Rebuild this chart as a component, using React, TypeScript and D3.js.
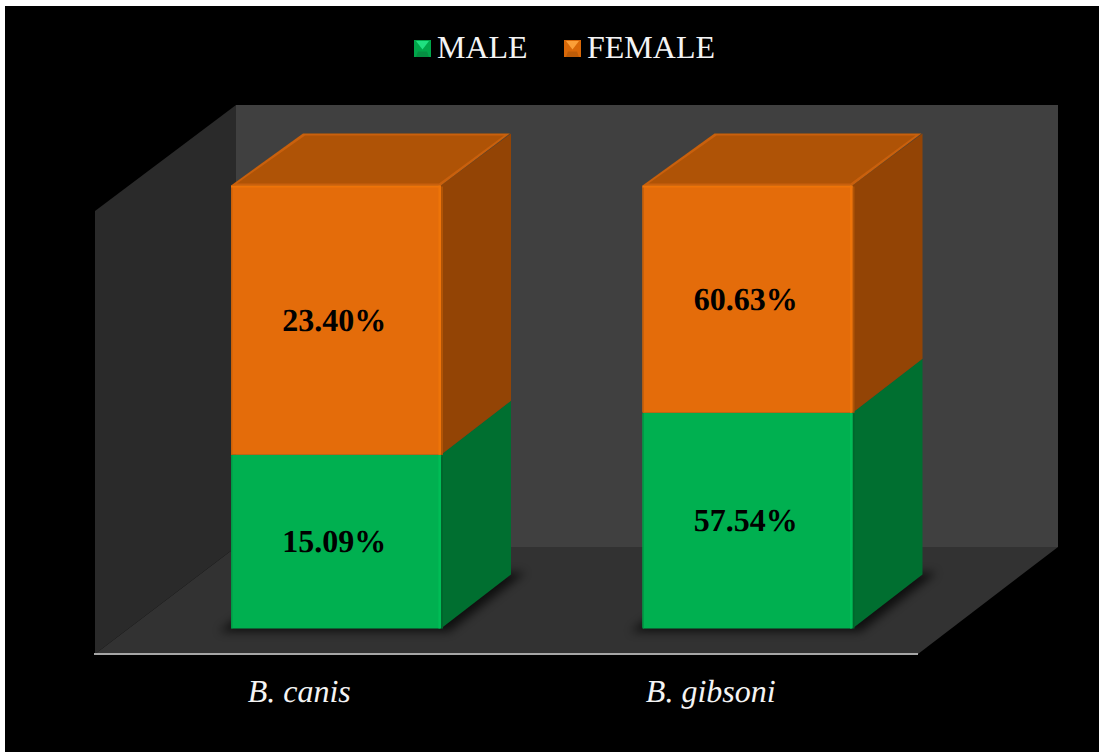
import React from "react";
import * as d3 from "d3";

const categories = ["B. canis", "B. gibsoni"];
const seriesNames = ["MALE", "FEMALE"];
const maleValues = [15.09, 57.54];
const femaleValues = [23.4, 60.63];
const valueLabels = [
  ["15.09%", "57.54%"],
  ["23.40%", "60.63%"],
];

const W = 1099;
const H = 752;
const FONT = "'Liberation Serif', 'Times New Roman', serif";

// Chart box: front plane of the plot and the offset of the oblique depth axis.
const front = { left: 95, right: 918, top: 211, bottom: 654 };
const depth = { dx: 141, dy: -107 };
const barDepth = { dx: 70, dy: -54 };
const capRise = -52;
const barInset = { dx: 35.25, dy: -26 };
const barWidth = 210;

const palette = [
  { front: "#00b050", side: "#006f30", top: "#008a40", edge: "#00bd56", dark: "#009a45", sideDark: "#00662c", legendTop: "#1fe080", legendBottom: "#058f42", legendSide: "#00a64a" },
  { front: "#e46c0a", side: "#934405", top: "#af5306", edge: "#ee7409", dark: "#c96008", sideDark: "#b05406", legendTop: "#fb9f38", legendBottom: "#bd5c08", legendSide: "#d96808" },
];

const pts = (p: [number, number][]) => p.map((q) => q.join(",")).join(" ");

export default function App() {
  const rows = categories.map((c, i) => ({ c, MALE: maleValues[i], FEMALE: femaleValues[i] }));
  const stacked = d3.stack<any>().keys(seriesNames).offset(d3.stackOffsetExpand)(rows);

  const x = d3.scaleBand<string>().domain(categories).range([front.left, front.right]);
  const y = d3.scaleLinear().domain([0, 1]).range([628.5, 185.5]);
  const barX = (c: string) => x(c)! + x.bandwidth() / 2 + barInset.dx - barWidth / 2;

  const backL = front.left + depth.dx;
  const backR = front.right + depth.dx - 1;
  const backT = 105;
  const backB = 547;

  return (
    <svg
      width={W}
      height={H}
      viewBox={`0 0 ${W} ${H}`}
      style={{ position: "absolute", left: 0, top: 0, display: "block", textRendering: "geometricPrecision" }}
      fontFamily={FONT}
    >
      <defs>
        <filter id="floorShadow" x="-30%" y="-30%" width="160%" height="160%">
          <feGaussianBlur stdDeviation="5" />
        </filter>
        <filter id="capSoft" x="-5%" y="-5%" width="110%" height="110%">
          <feGaussianBlur stdDeviation="0.7" />
        </filter>
      </defs>
      <rect width={W} height={H} fill="#ffffff" />
      <rect x={5} y={6} width={W - 5} height={H - 6} fill="#000000" />

      {/* Walls and floor of the 3-D box */}
      <polygon
        points={pts([[backL, backT], [backR, backT], [backR, backB], [backL, backB]])}
        fill="#404040"
      />
      <polygon
        points={pts([[front.left, front.top], [backL, backT], [backL, backB], [front.left, front.bottom]])}
        fill="#2a2a2a"
      />
      <polygon
        points={pts([[front.left, front.bottom], [backL, backB], [backR, backB], [front.right, front.bottom]])}
        fill="#323232"
      />
      <line x1={front.left - 1} x2={front.right} y1={654} y2={654} stroke="#a6a6a6" strokeWidth={2} />

      {/* Soft shadows cast on the floor */}
      {categories.map((c) => {
        const bx = barX(c);
        const by = y(0);
        return (
          <polygon
            key={c}
            filter="url(#floorShadow)"
            fill="#000000"
            opacity={0.7}
            points={pts([
              [bx - 12, by + 3],
              [bx + barWidth + 8, by + 3],
              [bx + barWidth + barDepth.dx + 14, by + barDepth.dy - 2],
              [bx + barDepth.dx, by + barDepth.dy - 2],
            ])}
          />
        );
      })}

      {/* Stacked prisms */}
      {stacked.map((layer, s) => {
        const col = palette[s];
        return (
          <g key={layer.key}>
            {layer.map((d, i) => {
              const c = categories[i];
              const bx = barX(c);
              const y0 = y(d[0]);
              const y1 = y(d[1]);
              const r = bx + barWidth;
              const sideTop = s === 1 ? y1 + capRise : y1 + barDepth.dy;
              return (
                <g key={c}>
                  <polygon
                    fill={col.side}
                    points={pts([
                      [r, y1],
                      [r + barDepth.dx, sideTop],
                      [r + barDepth.dx, y0 + barDepth.dy],
                      [r, y0],
                    ])}
                  />
                  <rect x={r} y={y1 + 1} width={2} height={y0 - y1 - 1} fill={col.sideDark} />
                  {s === 1 && (
                    <g>
                      <polygon
                        fill={col.dark}
                        filter="url(#capSoft)"
                        points={pts([
                          [bx, y1],
                          [bx + barDepth.dx + 2, y1 + capRise],
                          [r + barDepth.dx - 1, y1 + capRise],
                          [r, y1],
                        ])}
                      />
                      <polygon
                        fill={col.top}
                        points={pts([
                          [bx + 6, y1 - 2],
                          [bx + barDepth.dx + 4, y1 + capRise + 2],
                          [r + barDepth.dx - 7, y1 + capRise + 2],
                          [r - 2, y1 - 2],
                        ])}
                      />
                    </g>
                  )}
                  <rect x={bx} y={y1} width={barWidth} height={y0 - y1} rx={1.5} fill={col.front} />
                  <rect x={bx} y={y1} width={1.5} height={y0 - y1} fill={col.dark} />
                  <rect x={r - 2.5} y={y1} width={2.5} height={y0 - y1} fill={col.edge} />
                  {s === 1 && <rect x={bx} y={y1} width={barWidth} height={2} fill={col.edge} />}
                </g>
              );
            })}
          </g>
        );
      })}

      {/* Value labels */}
      {stacked.map((layer, s) =>
        layer.map((d, i) => (
          <text
            key={`${s}-${i}`}
            x={barX(categories[i]) + barWidth / 2 - 1.75}
            y={(y(d[0]) + y(d[1])) / 2 + 10.5}
            textAnchor="middle"
            fontSize={32}
            fontWeight={700}
            fill="#000000"
          >
            {valueLabels[s][i]}
          </text>
        ))
      )}

      {/* Category axis */}
      {categories.map((c) => (
        <text
          key={c}
          x={x(c)! + x.bandwidth() / 2 - 1.5}
          y={701.5}
          textAnchor="middle"
          fontSize={32}
          fontStyle="italic"
          fill="#f4f4f4"
        >
          {c}
        </text>
      ))}

      {/* Legend */}
      {seriesNames.map((name, s) => {
        const lx = s === 0 ? 414 : 564;
        const ly = 40;
        const sz = 17;
        const col = palette[s];
        const m: [number, number] = [lx + sz / 2, ly + sz / 2 + 1];
        return (
          <g key={name}>
            <rect x={lx} y={ly} width={sz} height={sz} fill={col.legendSide} />
            <polygon points={pts([[lx + 2, ly + sz], [lx + 4, m[1] + 2], [lx + sz - 4, m[1] + 2], [lx + sz - 2, ly + sz]])} fill={col.legendBottom} />
            <polygon points={pts([[lx + 2, ly + 1], [lx + sz - 2, ly + 1], m])} fill={col.legendTop} />
            <text x={lx + 23} y={58} fontSize={32} fill="#f4f4f4">
              {name}
            </text>
          </g>
        );
      })}
    </svg>
  );
}
